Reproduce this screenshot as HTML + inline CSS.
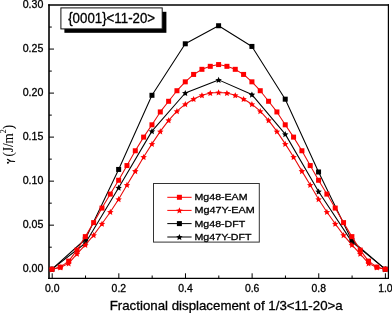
<!DOCTYPE html>
<html><head><meta charset="utf-8"><style>
html,body{margin:0;padding:0;background:#fff;}
body{width:392px;height:313px;overflow:hidden;}
svg{display:block;will-change:transform;}
</style></head><body>
<svg width="392" height="313" viewBox="0 0 392 313">
<style>
text { font-family: "Liberation Sans", sans-serif; fill:#000; stroke:#000; stroke-width:0.3px; }
.tl { font-size: 10.6px; }
.tx { font-size: 10.4px; }
.lg { font-size: 9.8px; }
.tt { font-size: 14px; }
.ax { font-size: 13.2px; }
.ay { font-family: "Liberation Serif", serif; font-size: 13px; stroke-width:0.05px; }
</style>
<rect x="0" y="0" width="392" height="313" fill="#fff"/>
<line x1="49.0" y1="269.20" x2="54.0" y2="269.20" stroke="#000" stroke-width="1"/><line x1="49.0" y1="247.19" x2="51.8" y2="247.19" stroke="#000" stroke-width="1"/><line x1="49.0" y1="225.17" x2="54.0" y2="225.17" stroke="#000" stroke-width="1"/><line x1="49.0" y1="203.16" x2="51.8" y2="203.16" stroke="#000" stroke-width="1"/><line x1="49.0" y1="181.15" x2="54.0" y2="181.15" stroke="#000" stroke-width="1"/><line x1="49.0" y1="159.14" x2="51.8" y2="159.14" stroke="#000" stroke-width="1"/><line x1="49.0" y1="137.12" x2="54.0" y2="137.12" stroke="#000" stroke-width="1"/><line x1="49.0" y1="115.11" x2="51.8" y2="115.11" stroke="#000" stroke-width="1"/><line x1="49.0" y1="93.10" x2="54.0" y2="93.10" stroke="#000" stroke-width="1"/><line x1="49.0" y1="71.09" x2="51.8" y2="71.09" stroke="#000" stroke-width="1"/><line x1="49.0" y1="49.07" x2="54.0" y2="49.07" stroke="#000" stroke-width="1"/><line x1="49.0" y1="27.06" x2="51.8" y2="27.06" stroke="#000" stroke-width="1"/><line x1="52.20" y1="278.3" x2="52.20" y2="273.3" stroke="#000" stroke-width="1"/><line x1="85.52" y1="278.3" x2="85.52" y2="275.5" stroke="#000" stroke-width="1"/><line x1="118.84" y1="278.3" x2="118.84" y2="273.3" stroke="#000" stroke-width="1"/><line x1="152.16" y1="278.3" x2="152.16" y2="275.5" stroke="#000" stroke-width="1"/><line x1="185.48" y1="278.3" x2="185.48" y2="273.3" stroke="#000" stroke-width="1"/><line x1="218.80" y1="278.3" x2="218.80" y2="275.5" stroke="#000" stroke-width="1"/><line x1="252.12" y1="278.3" x2="252.12" y2="273.3" stroke="#000" stroke-width="1"/><line x1="285.44" y1="278.3" x2="285.44" y2="275.5" stroke="#000" stroke-width="1"/><line x1="318.76" y1="278.3" x2="318.76" y2="273.3" stroke="#000" stroke-width="1"/><line x1="352.08" y1="278.3" x2="352.08" y2="275.5" stroke="#000" stroke-width="1"/><line x1="385.40" y1="278.3" x2="385.40" y2="273.3" stroke="#000" stroke-width="1"/>
<g stroke="#000" fill="none">
<line x1="48.2" y1="5.0" x2="389" y2="5.0" stroke-width="1.5"/>
<line x1="48.2" y1="278.4" x2="389" y2="278.4" stroke-width="1.2"/>
<line x1="49.0" y1="4.25" x2="49.0" y2="279" stroke-width="1.6"/>
<line x1="388.4" y1="4.25" x2="388.4" y2="279" stroke-width="1.2"/>
</g>
<polyline points="52.00,269.20 85.32,239.26 118.64,169.44 151.96,95.30 185.28,43.79 218.60,25.74 251.92,46.43 285.24,99.18 318.56,171.99 351.88,240.58 385.20,269.20" fill="none" stroke="#000000" stroke-width="1.05" stroke-linejoin="round"/><rect x="49.50" y="266.70" width="5.0" height="5.0" fill="#000000"/><rect x="82.82" y="236.76" width="5.0" height="5.0" fill="#000000"/><rect x="116.14" y="166.94" width="5.0" height="5.0" fill="#000000"/><rect x="149.46" y="92.80" width="5.0" height="5.0" fill="#000000"/><rect x="182.78" y="41.29" width="5.0" height="5.0" fill="#000000"/><rect x="216.10" y="23.24" width="5.0" height="5.0" fill="#000000"/><rect x="249.42" y="43.93" width="5.0" height="5.0" fill="#000000"/><rect x="282.74" y="96.68" width="5.0" height="5.0" fill="#000000"/><rect x="316.06" y="169.49" width="5.0" height="5.0" fill="#000000"/><rect x="349.38" y="238.08" width="5.0" height="5.0" fill="#000000"/><rect x="382.70" y="266.70" width="5.0" height="5.0" fill="#000000"/><polyline points="52.00,269.20 85.32,243.23 118.64,187.67 151.96,131.14 185.28,93.01 218.60,79.89 251.92,94.60 285.24,134.13 318.56,191.54 351.88,241.90 385.20,269.20" fill="none" stroke="#000000" stroke-width="1.05" stroke-linejoin="round"/><path d="M52.00,266.10 L52.94,268.21 L55.23,268.45 L53.52,269.99 L54.00,272.25 L52.00,271.10 L50.00,272.25 L50.48,269.99 L48.77,268.45 L51.06,268.21Z" fill="#000000"/><path d="M85.32,240.13 L86.26,242.23 L88.55,242.47 L86.84,244.02 L87.32,246.28 L85.32,245.13 L83.32,246.28 L83.80,244.02 L82.09,242.47 L84.38,242.23Z" fill="#000000"/><path d="M118.64,184.57 L119.58,186.67 L121.87,186.92 L120.16,188.46 L120.64,190.72 L118.64,189.57 L116.64,190.72 L117.12,188.46 L115.41,186.92 L117.70,186.67Z" fill="#000000"/><path d="M151.96,128.04 L152.90,130.14 L155.19,130.39 L153.48,131.93 L153.96,134.19 L151.96,133.04 L149.96,134.19 L150.44,131.93 L148.73,130.39 L151.02,130.14Z" fill="#000000"/><path d="M185.28,89.91 L186.22,92.02 L188.51,92.26 L186.80,93.81 L187.28,96.06 L185.28,94.91 L183.28,96.06 L183.76,93.81 L182.05,92.26 L184.34,92.02Z" fill="#000000"/><path d="M218.60,76.79 L219.54,78.90 L221.83,79.14 L220.12,80.69 L220.60,82.94 L218.60,81.79 L216.60,82.94 L217.08,80.69 L215.37,79.14 L217.66,78.90Z" fill="#000000"/><path d="M251.92,91.50 L252.86,93.60 L255.15,93.85 L253.44,95.39 L253.92,97.65 L251.92,96.50 L249.92,97.65 L250.40,95.39 L248.69,93.85 L250.98,93.60Z" fill="#000000"/><path d="M285.24,131.03 L286.18,133.14 L288.47,133.38 L286.76,134.93 L287.24,137.18 L285.24,136.03 L283.24,137.18 L283.72,134.93 L282.01,133.38 L284.30,133.14Z" fill="#000000"/><path d="M318.56,188.44 L319.50,190.55 L321.79,190.79 L320.08,192.33 L320.56,194.59 L318.56,193.44 L316.56,194.59 L317.04,192.33 L315.33,190.79 L317.62,190.55Z" fill="#000000"/><path d="M351.88,238.80 L352.82,240.91 L355.11,241.15 L353.40,242.70 L353.88,244.96 L351.88,243.80 L349.88,244.96 L350.36,242.70 L348.65,241.15 L350.94,240.91Z" fill="#000000"/><path d="M385.20,266.10 L386.14,268.21 L388.43,268.45 L386.72,269.99 L387.20,272.25 L385.20,271.10 L383.20,272.25 L383.68,269.99 L381.97,268.45 L384.26,268.21Z" fill="#000000"/><polyline points="52.00,269.20 60.33,267.44 68.66,263.39 76.99,253.79 85.32,244.90 93.65,235.12 101.98,223.77 110.31,211.97 118.64,199.20 126.97,184.94 135.30,171.11 143.63,157.02 151.96,143.90 160.29,131.40 168.62,120.31 176.95,111.15 185.28,104.19 193.61,99.00 201.94,95.30 210.27,93.01 218.60,92.40 226.93,93.01 235.26,95.30 243.59,99.00 251.92,104.19 260.25,111.15 268.58,120.31 276.91,131.40 285.24,143.90 293.57,157.02 301.90,171.11 310.23,184.94 318.56,199.20 326.89,211.97 335.22,223.77 343.55,235.12 351.88,244.90 360.21,253.79 368.54,263.39 376.87,267.44 385.20,269.20" fill="none" stroke="#e80808" stroke-width="1.05" stroke-linejoin="round"/><path d="M52.00,266.10 L52.94,268.21 L55.23,268.45 L53.52,269.99 L54.00,272.25 L52.00,271.10 L50.00,272.25 L50.48,269.99 L48.77,268.45 L51.06,268.21Z" fill="#ff0000"/><path d="M60.33,264.34 L61.27,266.44 L63.56,266.69 L61.85,268.23 L62.33,270.49 L60.33,269.34 L58.33,270.49 L58.81,268.23 L57.10,266.69 L59.39,266.44Z" fill="#ff0000"/><path d="M68.66,260.29 L69.60,262.39 L71.89,262.64 L70.18,264.18 L70.66,266.44 L68.66,265.29 L66.66,266.44 L67.14,264.18 L65.43,262.64 L67.72,262.39Z" fill="#ff0000"/><path d="M76.99,250.69 L77.93,252.80 L80.22,253.04 L78.51,254.59 L78.99,256.84 L76.99,255.69 L74.99,256.84 L75.47,254.59 L73.76,253.04 L76.05,252.80Z" fill="#ff0000"/><path d="M85.32,241.80 L86.26,243.90 L88.55,244.15 L86.84,245.69 L87.32,247.95 L85.32,246.80 L83.32,247.95 L83.80,245.69 L82.09,244.15 L84.38,243.90Z" fill="#ff0000"/><path d="M93.65,232.02 L94.59,234.13 L96.88,234.37 L95.17,235.92 L95.65,238.18 L93.65,237.02 L91.65,238.18 L92.13,235.92 L90.42,234.37 L92.71,234.13Z" fill="#ff0000"/><path d="M101.98,220.67 L102.92,222.77 L105.21,223.02 L103.50,224.56 L103.98,226.82 L101.98,225.67 L99.98,226.82 L100.46,224.56 L98.75,223.02 L101.04,222.77Z" fill="#ff0000"/><path d="M110.31,208.87 L111.25,210.97 L113.54,211.22 L111.83,212.76 L112.31,215.02 L110.31,213.87 L108.31,215.02 L108.79,212.76 L107.08,211.22 L109.37,210.97Z" fill="#ff0000"/><path d="M118.64,196.10 L119.58,198.21 L121.87,198.45 L120.16,199.99 L120.64,202.25 L118.64,201.10 L116.64,202.25 L117.12,199.99 L115.41,198.45 L117.70,198.21Z" fill="#ff0000"/><path d="M126.97,181.84 L127.91,183.94 L130.20,184.19 L128.49,185.73 L128.97,187.99 L126.97,186.84 L124.97,187.99 L125.45,185.73 L123.74,184.19 L126.03,183.94Z" fill="#ff0000"/><path d="M135.30,168.01 L136.24,170.12 L138.53,170.36 L136.82,171.91 L137.30,174.16 L135.30,173.01 L133.30,174.16 L133.78,171.91 L132.07,170.36 L134.36,170.12Z" fill="#ff0000"/><path d="M143.63,153.92 L144.57,156.03 L146.86,156.27 L145.15,157.82 L145.63,160.07 L143.63,158.92 L141.63,160.07 L142.11,157.82 L140.40,156.27 L142.69,156.03Z" fill="#ff0000"/><path d="M151.96,140.80 L152.90,142.91 L155.19,143.15 L153.48,144.70 L153.96,146.96 L151.96,145.80 L149.96,146.96 L150.44,144.70 L148.73,143.15 L151.02,142.91Z" fill="#ff0000"/><path d="M160.29,128.30 L161.23,130.41 L163.52,130.65 L161.81,132.20 L162.29,134.45 L160.29,133.30 L158.29,134.45 L158.77,132.20 L157.06,130.65 L159.35,130.41Z" fill="#ff0000"/><path d="M168.62,117.21 L169.56,119.31 L171.85,119.56 L170.14,121.10 L170.62,123.36 L168.62,122.21 L166.62,123.36 L167.10,121.10 L165.39,119.56 L167.68,119.31Z" fill="#ff0000"/><path d="M176.95,108.05 L177.89,110.16 L180.18,110.40 L178.47,111.94 L178.95,114.20 L176.95,113.05 L174.95,114.20 L175.43,111.94 L173.72,110.40 L176.01,110.16Z" fill="#ff0000"/><path d="M185.28,101.09 L186.22,103.20 L188.51,103.44 L186.80,104.99 L187.28,107.24 L185.28,106.09 L183.28,107.24 L183.76,104.99 L182.05,103.44 L184.34,103.20Z" fill="#ff0000"/><path d="M193.61,95.90 L194.55,98.00 L196.84,98.25 L195.13,99.79 L195.61,102.05 L193.61,100.90 L191.61,102.05 L192.09,99.79 L190.38,98.25 L192.67,98.00Z" fill="#ff0000"/><path d="M201.94,92.20 L202.88,94.31 L205.17,94.55 L203.46,96.10 L203.94,98.35 L201.94,97.20 L199.94,98.35 L200.42,96.10 L198.71,94.55 L201.00,94.31Z" fill="#ff0000"/><path d="M210.27,89.91 L211.21,92.02 L213.50,92.26 L211.79,93.81 L212.27,96.06 L210.27,94.91 L208.27,96.06 L208.75,93.81 L207.04,92.26 L209.33,92.02Z" fill="#ff0000"/><path d="M218.60,89.30 L219.54,91.40 L221.83,91.64 L220.12,93.19 L220.60,95.45 L218.60,94.30 L216.60,95.45 L217.08,93.19 L215.37,91.64 L217.66,91.40Z" fill="#ff0000"/><path d="M226.93,89.91 L227.87,92.02 L230.16,92.26 L228.45,93.81 L228.93,96.06 L226.93,94.91 L224.93,96.06 L225.41,93.81 L223.70,92.26 L225.99,92.02Z" fill="#ff0000"/><path d="M235.26,92.20 L236.20,94.31 L238.49,94.55 L236.78,96.10 L237.26,98.35 L235.26,97.20 L233.26,98.35 L233.74,96.10 L232.03,94.55 L234.32,94.31Z" fill="#ff0000"/><path d="M243.59,95.90 L244.53,98.00 L246.82,98.25 L245.11,99.79 L245.59,102.05 L243.59,100.90 L241.59,102.05 L242.07,99.79 L240.36,98.25 L242.65,98.00Z" fill="#ff0000"/><path d="M251.92,101.09 L252.86,103.20 L255.15,103.44 L253.44,104.99 L253.92,107.24 L251.92,106.09 L249.92,107.24 L250.40,104.99 L248.69,103.44 L250.98,103.20Z" fill="#ff0000"/><path d="M260.25,108.05 L261.19,110.16 L263.48,110.40 L261.77,111.94 L262.25,114.20 L260.25,113.05 L258.25,114.20 L258.73,111.94 L257.02,110.40 L259.31,110.16Z" fill="#ff0000"/><path d="M268.58,117.21 L269.52,119.31 L271.81,119.56 L270.10,121.10 L270.58,123.36 L268.58,122.21 L266.58,123.36 L267.06,121.10 L265.35,119.56 L267.64,119.31Z" fill="#ff0000"/><path d="M276.91,128.30 L277.85,130.41 L280.14,130.65 L278.43,132.20 L278.91,134.45 L276.91,133.30 L274.91,134.45 L275.39,132.20 L273.68,130.65 L275.97,130.41Z" fill="#ff0000"/><path d="M285.24,140.80 L286.18,142.91 L288.47,143.15 L286.76,144.70 L287.24,146.96 L285.24,145.80 L283.24,146.96 L283.72,144.70 L282.01,143.15 L284.30,142.91Z" fill="#ff0000"/><path d="M293.57,153.92 L294.51,156.03 L296.80,156.27 L295.09,157.82 L295.57,160.07 L293.57,158.92 L291.57,160.07 L292.05,157.82 L290.34,156.27 L292.63,156.03Z" fill="#ff0000"/><path d="M301.90,168.01 L302.84,170.12 L305.13,170.36 L303.42,171.91 L303.90,174.16 L301.90,173.01 L299.90,174.16 L300.38,171.91 L298.67,170.36 L300.96,170.12Z" fill="#ff0000"/><path d="M310.23,181.84 L311.17,183.94 L313.46,184.19 L311.75,185.73 L312.23,187.99 L310.23,186.84 L308.23,187.99 L308.71,185.73 L307.00,184.19 L309.29,183.94Z" fill="#ff0000"/><path d="M318.56,196.10 L319.50,198.21 L321.79,198.45 L320.08,199.99 L320.56,202.25 L318.56,201.10 L316.56,202.25 L317.04,199.99 L315.33,198.45 L317.62,198.21Z" fill="#ff0000"/><path d="M326.89,208.87 L327.83,210.97 L330.12,211.22 L328.41,212.76 L328.89,215.02 L326.89,213.87 L324.89,215.02 L325.37,212.76 L323.66,211.22 L325.95,210.97Z" fill="#ff0000"/><path d="M335.22,220.67 L336.16,222.77 L338.45,223.02 L336.74,224.56 L337.22,226.82 L335.22,225.67 L333.22,226.82 L333.70,224.56 L331.99,223.02 L334.28,222.77Z" fill="#ff0000"/><path d="M343.55,232.02 L344.49,234.13 L346.78,234.37 L345.07,235.92 L345.55,238.18 L343.55,237.02 L341.55,238.18 L342.03,235.92 L340.32,234.37 L342.61,234.13Z" fill="#ff0000"/><path d="M351.88,241.80 L352.82,243.90 L355.11,244.15 L353.40,245.69 L353.88,247.95 L351.88,246.80 L349.88,247.95 L350.36,245.69 L348.65,244.15 L350.94,243.90Z" fill="#ff0000"/><path d="M360.21,250.69 L361.15,252.80 L363.44,253.04 L361.73,254.59 L362.21,256.84 L360.21,255.69 L358.21,256.84 L358.69,254.59 L356.98,253.04 L359.27,252.80Z" fill="#ff0000"/><path d="M368.54,260.29 L369.48,262.39 L371.77,262.64 L370.06,264.18 L370.54,266.44 L368.54,265.29 L366.54,266.44 L367.02,264.18 L365.31,262.64 L367.60,262.39Z" fill="#ff0000"/><path d="M376.87,264.34 L377.81,266.44 L380.10,266.69 L378.39,268.23 L378.87,270.49 L376.87,269.34 L374.87,270.49 L375.35,268.23 L373.64,266.69 L375.93,266.44Z" fill="#ff0000"/><path d="M385.20,266.10 L386.14,268.21 L388.43,268.45 L386.72,269.99 L387.20,272.25 L385.20,271.10 L383.20,272.25 L383.68,269.99 L381.97,268.45 L384.26,268.21Z" fill="#ff0000"/><polyline points="52.00,269.20 60.33,267.09 68.66,261.10 76.99,250.09 85.32,236.62 93.65,222.62 101.98,208.09 110.31,194.09 118.64,180.27 126.97,165.57 135.30,150.77 143.63,137.12 151.96,124.80 160.29,111.94 168.62,101.29 176.95,90.72 185.28,81.83 193.61,74.43 201.94,69.33 210.27,66.33 218.60,64.57 226.93,66.33 235.26,69.33 243.59,74.43 251.92,81.83 260.25,90.72 268.58,101.29 276.91,111.94 285.24,124.80 293.57,137.12 301.90,150.77 310.23,165.57 318.56,180.27 326.89,194.09 335.22,208.09 343.55,222.62 351.88,236.62 360.21,250.09 368.54,261.10 376.87,267.09 385.20,269.20" fill="none" stroke="#e80808" stroke-width="1.05" stroke-linejoin="round"/><rect x="49.50" y="266.70" width="5.0" height="5.0" fill="#ff0000"/><rect x="57.83" y="264.59" width="5.0" height="5.0" fill="#ff0000"/><rect x="66.16" y="258.60" width="5.0" height="5.0" fill="#ff0000"/><rect x="74.49" y="247.59" width="5.0" height="5.0" fill="#ff0000"/><rect x="82.82" y="234.12" width="5.0" height="5.0" fill="#ff0000"/><rect x="91.15" y="220.12" width="5.0" height="5.0" fill="#ff0000"/><rect x="99.48" y="205.59" width="5.0" height="5.0" fill="#ff0000"/><rect x="107.81" y="191.59" width="5.0" height="5.0" fill="#ff0000"/><rect x="116.14" y="177.77" width="5.0" height="5.0" fill="#ff0000"/><rect x="124.47" y="163.07" width="5.0" height="5.0" fill="#ff0000"/><rect x="132.80" y="148.27" width="5.0" height="5.0" fill="#ff0000"/><rect x="141.13" y="134.62" width="5.0" height="5.0" fill="#ff0000"/><rect x="149.46" y="122.30" width="5.0" height="5.0" fill="#ff0000"/><rect x="157.79" y="109.44" width="5.0" height="5.0" fill="#ff0000"/><rect x="166.12" y="98.79" width="5.0" height="5.0" fill="#ff0000"/><rect x="174.45" y="88.22" width="5.0" height="5.0" fill="#ff0000"/><rect x="182.78" y="79.33" width="5.0" height="5.0" fill="#ff0000"/><rect x="191.11" y="71.93" width="5.0" height="5.0" fill="#ff0000"/><rect x="199.44" y="66.83" width="5.0" height="5.0" fill="#ff0000"/><rect x="207.77" y="63.83" width="5.0" height="5.0" fill="#ff0000"/><rect x="216.10" y="62.07" width="5.0" height="5.0" fill="#ff0000"/><rect x="224.43" y="63.83" width="5.0" height="5.0" fill="#ff0000"/><rect x="232.76" y="66.83" width="5.0" height="5.0" fill="#ff0000"/><rect x="241.09" y="71.93" width="5.0" height="5.0" fill="#ff0000"/><rect x="249.42" y="79.33" width="5.0" height="5.0" fill="#ff0000"/><rect x="257.75" y="88.22" width="5.0" height="5.0" fill="#ff0000"/><rect x="266.08" y="98.79" width="5.0" height="5.0" fill="#ff0000"/><rect x="274.41" y="109.44" width="5.0" height="5.0" fill="#ff0000"/><rect x="282.74" y="122.30" width="5.0" height="5.0" fill="#ff0000"/><rect x="291.07" y="134.62" width="5.0" height="5.0" fill="#ff0000"/><rect x="299.40" y="148.27" width="5.0" height="5.0" fill="#ff0000"/><rect x="307.73" y="163.07" width="5.0" height="5.0" fill="#ff0000"/><rect x="316.06" y="177.77" width="5.0" height="5.0" fill="#ff0000"/><rect x="324.39" y="191.59" width="5.0" height="5.0" fill="#ff0000"/><rect x="332.72" y="205.59" width="5.0" height="5.0" fill="#ff0000"/><rect x="341.05" y="220.12" width="5.0" height="5.0" fill="#ff0000"/><rect x="349.38" y="234.12" width="5.0" height="5.0" fill="#ff0000"/><rect x="357.71" y="247.59" width="5.0" height="5.0" fill="#ff0000"/><rect x="366.04" y="258.60" width="5.0" height="5.0" fill="#ff0000"/><rect x="374.37" y="264.59" width="5.0" height="5.0" fill="#ff0000"/><rect x="382.70" y="266.70" width="5.0" height="5.0" fill="#ff0000"/>
<text x="43.3" y="272.20" text-anchor="end" class="tl">0.00</text><text x="43.3" y="228.17" text-anchor="end" class="tl">0.05</text><text x="43.3" y="184.15" text-anchor="end" class="tl">0.10</text><text x="43.3" y="140.12" text-anchor="end" class="tl">0.15</text><text x="43.3" y="96.10" text-anchor="end" class="tl">0.20</text><text x="43.3" y="52.07" text-anchor="end" class="tl">0.25</text><text x="43.3" y="8.05" text-anchor="end" class="tl">0.30</text><text x="52.20" y="292.4" text-anchor="middle" class="tx">0.0</text><text x="118.84" y="292.4" text-anchor="middle" class="tx">0.2</text><text x="185.48" y="292.4" text-anchor="middle" class="tx">0.4</text><text x="252.12" y="292.4" text-anchor="middle" class="tx">0.6</text><text x="318.76" y="292.4" text-anchor="middle" class="tx">0.8</text><text x="385.40" y="292.4" text-anchor="middle" class="tx">1.0</text>
<rect x="153.5" y="183.5" width="105.8" height="58.6" fill="#fff" stroke="#333" stroke-width="1"/><line x1="167.3" y1="197.3" x2="191.6" y2="197.3" stroke="#ff0000" stroke-width="1"/><rect x="176.90" y="194.80" width="5.0" height="5.0" fill="#ff0000"/><text x="194.5" y="200.30" class="lg" textLength="53.03" lengthAdjust="spacingAndGlyphs">Mg48-EAM</text><line x1="167.3" y1="210.4" x2="191.6" y2="210.4" stroke="#ff0000" stroke-width="1"/><path d="M179.40,207.30 L180.34,209.41 L182.63,209.65 L180.92,211.19 L181.40,213.45 L179.40,212.30 L177.40,213.45 L177.88,211.19 L176.17,209.65 L178.46,209.41Z" fill="#ff0000"/><text x="194.5" y="213.40" class="lg" textLength="60.2" lengthAdjust="spacingAndGlyphs">Mg47Y-EAM</text><line x1="167.3" y1="223.6" x2="191.6" y2="223.6" stroke="#000000" stroke-width="1"/><rect x="176.90" y="221.10" width="5.0" height="5.0" fill="#000000"/><text x="194.5" y="226.60" class="lg" textLength="50.69" lengthAdjust="spacingAndGlyphs">Mg48-DFT</text><line x1="167.3" y1="237.0" x2="191.6" y2="237.0" stroke="#000000" stroke-width="1"/><path d="M179.40,233.90 L180.34,236.01 L182.63,236.25 L180.92,237.79 L181.40,240.05 L179.40,238.90 L177.40,240.05 L177.88,237.79 L176.17,236.25 L178.46,236.01Z" fill="#000000"/><text x="194.5" y="240.00" class="lg" textLength="57.03" lengthAdjust="spacingAndGlyphs">Mg47Y-DFT</text>
<rect x="64.4" y="11.8" width="102" height="21" fill="#000"/><rect x="60.9" y="7.9" width="101.3" height="21" fill="#fff" stroke="#111" stroke-width="1.0"/><text x="68.2" y="23.2" class="tt" textLength="86.9" lengthAdjust="spacingAndGlyphs">{0001}&lt;11-20&gt;</text>
<text x="109.7" y="309.6" class="ax" textLength="233" lengthAdjust="spacingAndGlyphs">Fractional displacement of 1/3&lt;11-20&gt;a</text>
<text transform="translate(12.7,165.4) scale(1.08,1) rotate(-90)" class="ay"><tspan fill="none" stroke="none">&#947;</tspan> (J/m<tspan dy="-6" font-size="8px">2</tspan><tspan dy="6">)</tspan></text>
<g fill="none" stroke="#000" stroke-linecap="round"><path d="M7.5 159.3 L10.4 161.1 L14.6 161.5" stroke-width="1.15"/><path d="M8.0 162.6 L10.4 161.1" stroke-width="0.55"/></g><circle cx="7.9" cy="162.8" r="0.95" fill="#000"/>
</svg>
</body></html>
